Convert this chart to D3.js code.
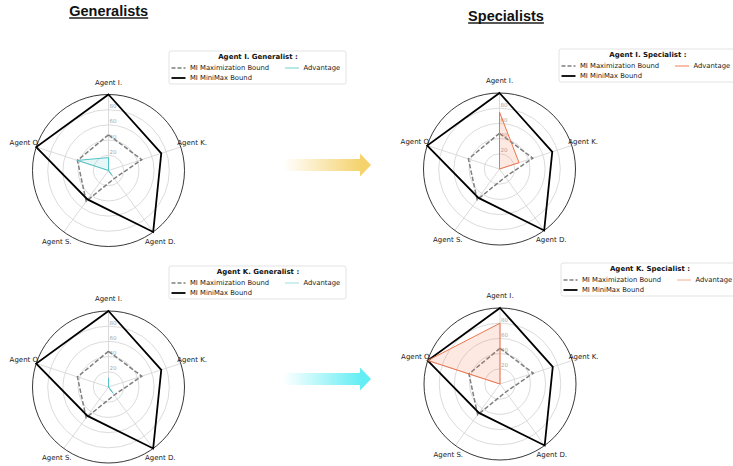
<!DOCTYPE html>
<html>
<head>
<meta charset="utf-8">
<script src="https://cdn.jsdelivr.net/npm/d3@7"></script>
<style>
  body { margin: 0; background: #fff; }
  svg { display: block; }
</style>
</head>
<body>
<svg id="chart" width="733" height="466"></svg>
<script>
// ---- data ----
const agents = ["Agent I.", "Agent K.", "Agent D.", "Agent S.", "Agent O."];
const radialTicks = [20, 40, 60, 80];
const miniMaxBound = [100, 73, 100, 47, 100];
const maximizationBound = [47, 46, 13, 50, 43];
const advIGeneralist = [17, 0, 8, 0, 43];
const advISpecialist = [75, 27, 0, 0, 0];
const advKGeneralist = [12, 0, 10, 0, 0];
const advKSpecialist = [80, 0, 0, 0, 100];
const legendTitles = ["Agent I.  Generalist :", "Agent I.  Specialist :", "Agent K.  Generalist :", "Agent K.  Specialist :"];
const seriesNames = ["MI Maximization Bound", "MI MiniMax Bound", "Advantage"];
const headings = ["Generalists", "Specialists"];

// ---- layout ----
const R = 76;
const panels = [
  { cx: 108.5, cy: 170.5, adv: advIGeneralist, title: legendTitles[0],
    line: "#52c4c6", fill: "rgba(82,196,198,0.14)", key: "#72d0d2", lx: 169, ly: 51 },
  { cx: 499.5, cy: 169, adv: advISpecialist, title: legendTitles[1],
    line: "#f0744c", fill: "rgba(240,116,76,0.16)", key: "#f27e58", lx: 559, ly: 49 },
  { cx: 108.5, cy: 387, adv: advKGeneralist, title: legendTitles[2],
    line: "#52c4c6", fill: "rgba(82,196,198,0.14)", key: "#9fdde0", lx: 169, ly: 266 },
  { cx: 500, cy: 384, adv: advKSpecialist, title: legendTitles[3],
    line: "#f0744c", fill: "rgba(240,116,76,0.16)", key: "#f6ab8e", lx: 561, ly: 263 }
];

const svg = d3.select("#chart");
const defs = svg.append("defs");

const r = d3.scaleLinear().domain([0, 100]).range([0, R]);
const angle = d3.scaleLinear().domain([0, agents.length]).range([0, 2 * Math.PI]);

const radial = d3.lineRadial()
  .angle((d, i) => angle(i))
  .radius(d => r(d))
  .curve(d3.curveLinearClosed);

const labelFont = "'DejaVu Sans', Verdana, sans-serif";

panels.forEach(p => {
  const g = svg.append("g").attr("transform", `translate(${p.cx},${p.cy})`);

  // grid rings
  g.selectAll("circle.ring").data(radialTicks).join("circle")
    .attr("r", d => r(d)).attr("fill", "none")
    .attr("stroke", "#d2d2d2").attr("stroke-width", 0.8);

  // spokes
  g.selectAll("line.spoke").data(agents).join("line")
    .attr("x1", 0).attr("y1", 0)
    .attr("x2", (d, i) => Math.sin(angle(i)) * r(100))
    .attr("y2", (d, i) => -Math.cos(angle(i)) * r(100))
    .attr("stroke", "#d2d2d2").attr("stroke-width", 0.8);

  // outer frame
  g.append("circle").attr("r", r(100)).attr("fill", "none")
    .attr("stroke", "#222").attr("stroke-width", 0.9);

  // radial tick labels
  g.selectAll("text.rt").data(radialTicks).join("text")
    .attr("x", 1).attr("y", d => -r(d) - 1.5)
    .attr("font-family", labelFont).attr("font-size", 5.5)
    .attr("fill", "#a8a8a8").text(d => d);

  // maximization bound (dashed)
  g.append("path").attr("d", radial(maximizationBound))
    .attr("fill", "none").attr("stroke", "#7f7f7f")
    .attr("stroke-width", 1.5).attr("stroke-dasharray", "4.5,2");

  // minimax bound
  g.append("path").attr("d", radial(miniMaxBound))
    .attr("fill", "none").attr("stroke", "#000")
    .attr("stroke-width", 1.8).attr("stroke-linejoin", "miter");

  // advantage
  g.append("path").attr("d", radial(p.adv))
    .attr("fill", p.fill).attr("stroke", p.line).attr("stroke-width", 1);

  // axis labels
  g.selectAll("text.ax").data(agents).join("text")
    .attr("x", (d, i) => Math.sin(angle(i)) * (R + 12))
    .attr("y", (d, i) => -Math.cos(angle(i)) * (R + 12))
    .attr("text-anchor", "middle").attr("dominant-baseline", "central")
    .attr("font-family", labelFont).attr("font-size", 7)
    .attr("fill", "#222").text(d => d);

  // legend
  const lg = svg.append("g").attr("transform", `translate(${p.lx},${p.ly})`);
  lg.append("rect").attr("width", 177).attr("height", 33).attr("rx", 2)
    .attr("fill", "#fff").attr("stroke", "#dcdcdc").attr("stroke-width", 0.8);
  lg.append("text").attr("x", 89).attr("y", 6).attr("text-anchor", "middle")
    .attr("dominant-baseline", "central").attr("font-family", labelFont)
    .attr("font-size", 7).attr("font-weight", "bold").attr("fill", "#111")
    .text(p.title);
  const items = [
    { name: seriesNames[0], x: 2.5, y: 17, stroke: "#7f7f7f", w: 1.5, dash: "4,2" },
    { name: seriesNames[1], x: 2.5, y: 27, stroke: "#000", w: 1.8, dash: null },
    { name: seriesNames[2], x: 116, y: 17, stroke: p.key, w: 1, dash: null }
  ];
  items.forEach(it => {
    lg.append("line").attr("x1", it.x).attr("x2", it.x + 14)
      .attr("y1", it.y).attr("y2", it.y)
      .attr("stroke", it.stroke).attr("stroke-width", it.w)
      .attr("stroke-dasharray", it.dash);
    lg.append("text").attr("x", it.x + 18.5).attr("y", it.y)
      .attr("dominant-baseline", "central").attr("font-family", labelFont)
      .attr("font-size", 6.8).attr("fill", "#222").text(it.name);
  });
});

// column headings
const headingPos = [{ x: 108.7, y: 16 }, { x: 506, y: 21 }];
headings.forEach((h, i) => {
  const t = svg.append("text").attr("x", headingPos[i].x).attr("y", headingPos[i].y)
    .attr("text-anchor", "middle")
    .attr("font-family", "'Liberation Sans', Arial, sans-serif")
    .attr("font-size", 14.5).attr("font-weight", "bold").attr("fill", "#111")
    .text(h);
  const bb = t.node().getBBox();
  svg.append("rect").attr("x", bb.x).attr("y", headingPos[i].y + 1.3)
    .attr("width", bb.width).attr("height", 1.4).attr("fill", "#111");
});

// transition arrows
const arrows = [
  { y: 165, color: "#f5d26c", id: "gradGold" },
  { y: 379, color: "#62eef4", id: "gradCyan" }
];
arrows.forEach(a => {
  const grad = defs.append("linearGradient").attr("id", a.id)
    .attr("gradientUnits", "userSpaceOnUse")
    .attr("x1", 283).attr("x2", 362).attr("y1", 0).attr("y2", 0);
  grad.append("stop").attr("offset", 0).attr("stop-color", a.color).attr("stop-opacity", 0);
  grad.append("stop").attr("offset", 1).attr("stop-color", a.color).attr("stop-opacity", 1);
  const y = a.y;
  const pts = [[283, y - 6], [360, y - 6], [360, y - 11.5], [371, y], [360, y + 11.5], [360, y + 6], [283, y + 6]];
  svg.append("path").attr("d", d3.line()(pts) + "Z").attr("fill", `url(#${a.id})`);
});
</script>
</body>
</html>
